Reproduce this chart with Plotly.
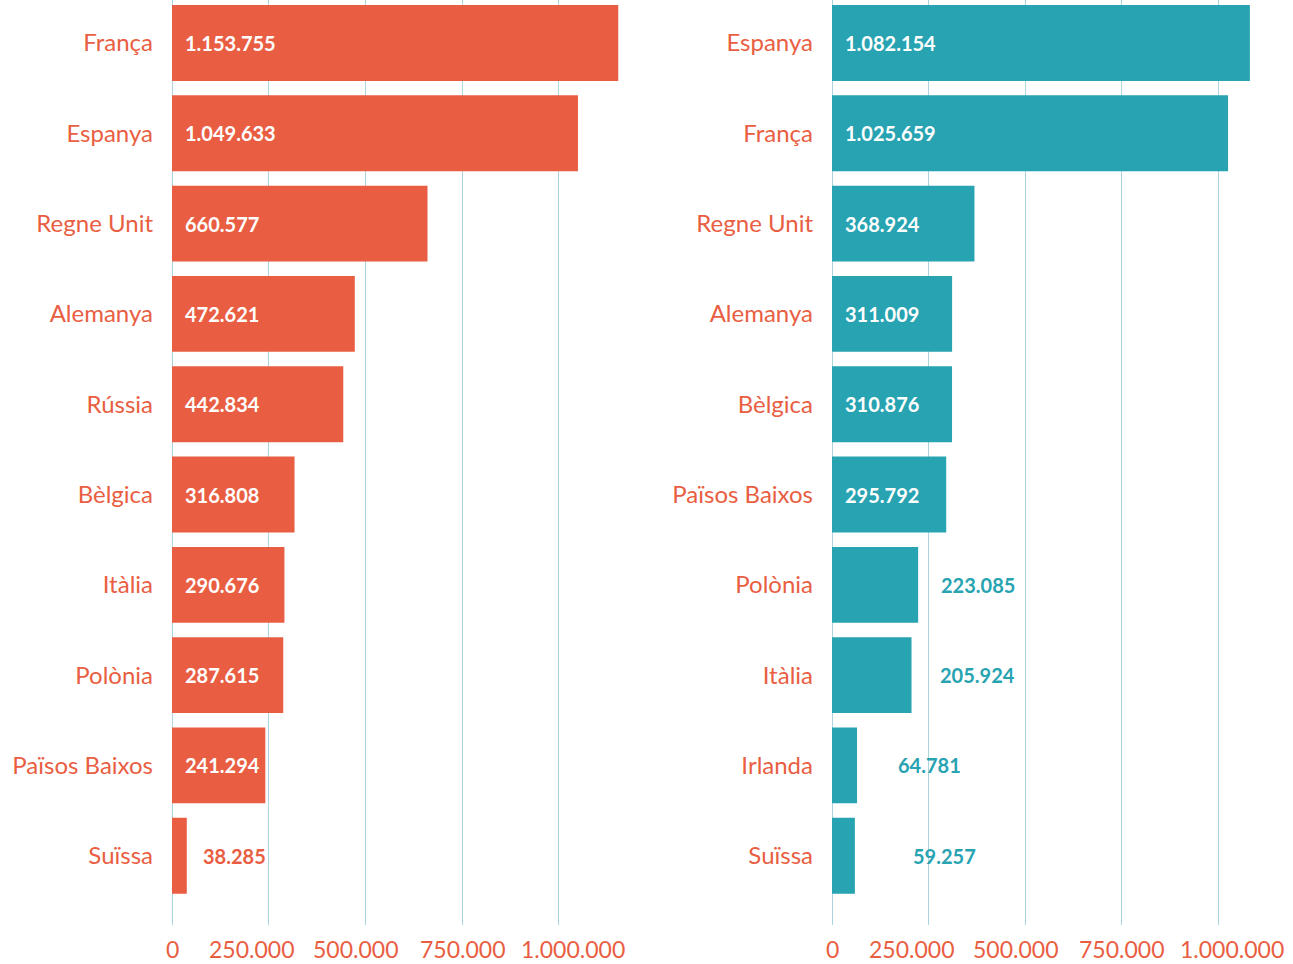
import plotly.graph_objects as go
from plotly.subplots import make_subplots

# ---- data ----
left_countries = ["França", "Espanya", "Regne Unit", "Alemanya", "Rússia",
                  "Bèlgica", "Itàlia", "Polònia", "Països Baixos", "Suïssa"]
left_values = [1153755, 1049633, 660577, 472621, 442834,
               316808, 290676, 287615, 241294, 38285]

right_countries = ["Espanya", "França", "Regne Unit", "Alemanya", "Bèlgica",
                   "Països Baixos", "Polònia", "Itàlia", "Irlanda", "Suïssa"]
right_values = [1082154, 1025659, 368924, 311009, 310876,
                295792, 223085, 205924, 64781, 59257]

tick_values = [0, 250000, 500000, 750000, 1000000]

# ---- style ----
ORANGE = "#E95E42"
TEAL = "#27A3B2"
GRID = "#AAD4DE"
FONT = "Lato"
INSIDE_MIN = 230000
left_nudge = {"Suïssa": 14}
right_nudge = {"Polònia": 21, "Itàlia": 26, "Irlanda": 39, "Suïssa": 56}
tick_label_nudge = [0, -17, -10, 0, 14]


def fmt(v):
    return f"{v:,}".replace(",", ".")


fig = make_subplots(rows=1, cols=2, horizontal_spacing=0.0)

panels = [
    (1, left_countries, left_values, ORANGE, left_nudge),
    (2, right_countries, right_values, TEAL, right_nudge),
]

for col, cats, vals, color, nudge in panels:
    fig.add_trace(
        go.Bar(x=vals, y=cats, orientation="h", marker_color=color,
               marker_line_width=0, width=0.84, hoverinfo="x+y"),
        row=1, col=col)
    xref = "x" if col == 1 else "x2"
    yref = "y" if col == 1 else "y2"
    for c, v in zip(cats, vals):
        if v >= INSIDE_MIN:
            fig.add_annotation(x=0, y=c, xref=xref, yref=yref, text=fmt(v),
                               showarrow=False, xanchor="left", xshift=11,
                               font=dict(family=FONT, size=20, color="white",
                                         weight="bold"))
        else:
            fig.add_annotation(x=v, y=c, xref=xref, yref=yref, text=fmt(v),
                               showarrow=False, xanchor="left",
                               xshift=nudge.get(c, 16),
                               font=dict(family=FONT, size=20, color=color,
                                         weight="bold"))
    # x tick labels (as text on the axis scale)
    for t, dx in zip(tick_values, tick_label_nudge):
        fig.add_annotation(x=t, y=0, xref=xref, yref="paper", text=fmt(t),
                           showarrow=False, xanchor="center",
                           yanchor="middle", xshift=dx, yshift=-24,
                           borderpad=0,
                           font=dict(family=FONT, size=23, color=ORANGE))

axis_common = dict(
    tickvals=tick_values, showgrid=True, gridcolor=GRID,
    gridwidth=1, zeroline=True, zerolinecolor=GRID, zerolinewidth=1,
    showline=False, ticks="", showticklabels=False, automargin=False,
)
fig.update_xaxes(domain=[172 / 1293, 640 / 1293], range=[0, 1.21e6],
                 row=1, col=1, **axis_common)
fig.update_xaxes(domain=[832 / 1293, 1278 / 1293], range=[0, 1.155e6],
                 row=1, col=2, **axis_common)

yaxis_common = dict(
    range=[9.767, -0.476], showgrid=False, zeroline=False, showline=False,
    ticks="", ticklabelstandoff=18, automargin=False,
    tickfont=dict(family=FONT, size=24, color=ORANGE),
)
fig.update_yaxes(categoryorder="array", categoryarray=left_countries,
                 row=1, col=1, **yaxis_common)
fig.update_yaxes(categoryorder="array", categoryarray=right_countries,
                 row=1, col=2, **yaxis_common)

fig.update_layout(
    width=1293, height=964, margin=dict(l=0, r=0, t=0, b=39),
    paper_bgcolor="white", plot_bgcolor="white", showlegend=False,
    separators=",.", font=dict(family=FONT), bargap=0.16,
)

fig.write_html("out.html",
               config={"displayModeBar": False},
               post_script="document.body.style.margin='0';"
                           "document.body.style.overflow='hidden';")
